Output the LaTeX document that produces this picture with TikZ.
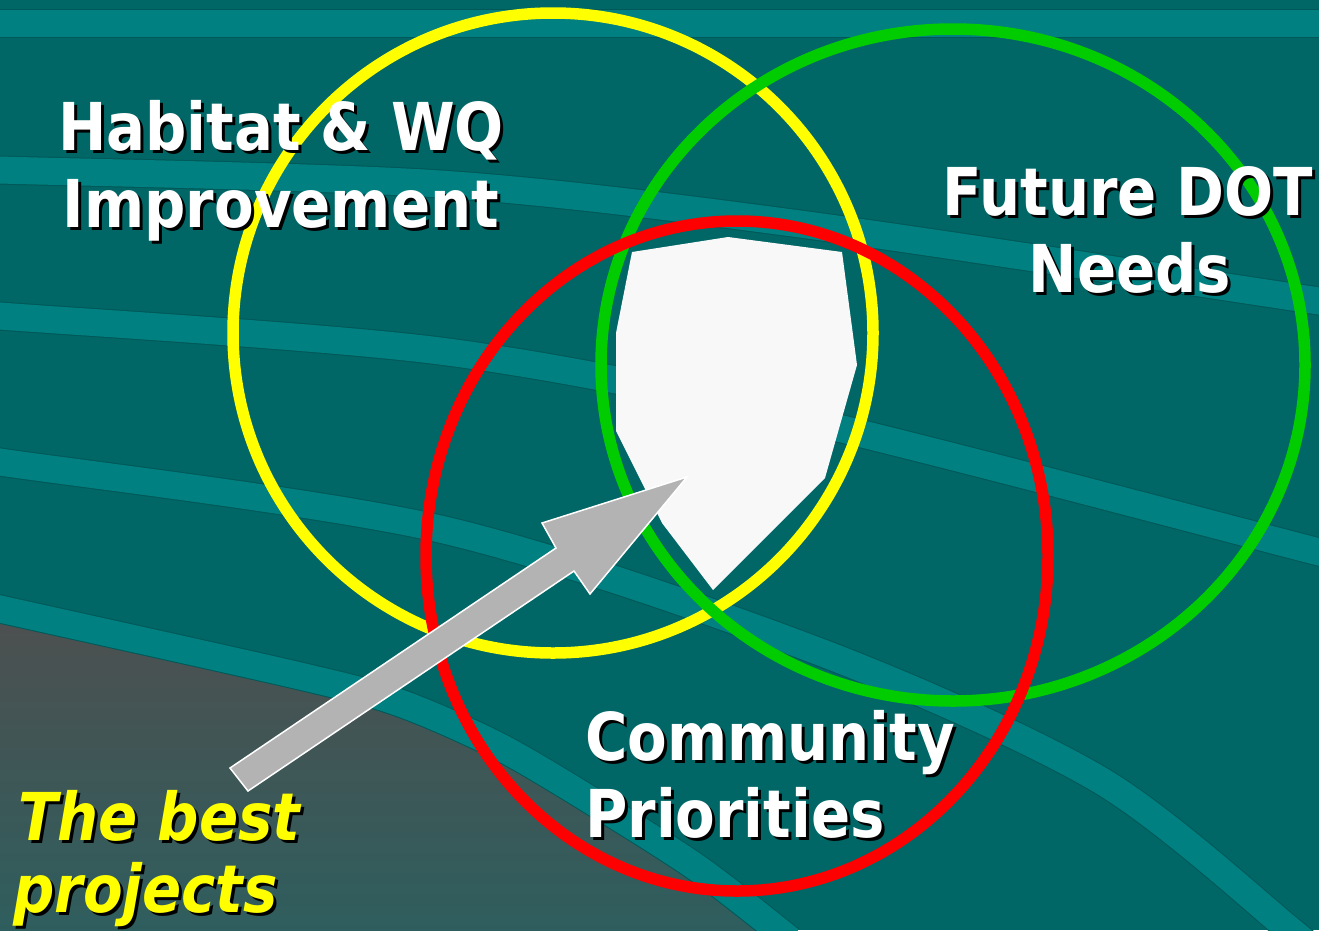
\documentclass[tikz,border=0pt]{standalone}
\usepackage{fontspec}
\newfontfamily\tah{DejaVu Sans}[FakeStretch=0.875]
\usetikzlibrary{calc}
\definecolor{bg}{HTML}{006666}
\definecolor{band}{HTML}{008080}
\definecolor{bandedge}{HTML}{005858}
\definecolor{ycirc}{HTML}{FFFF00}
\definecolor{gcirc}{HTML}{00CC00}
\definecolor{rcirc}{HTML}{FF0000}
\definecolor{arrowgray}{HTML}{B3B3B3}
\definecolor{shieldwhite}{HTML}{F8F8F8}
\definecolor{grayT}{HTML}{4F4F4F}
\definecolor{grayB}{HTML}{2E5E5E}
\definecolor{lblyellow}{HTML}{FFFF00}
\tikzset{
  bandedgeline/.style={line width=29pt, draw=bandedge},
  bandline/.style={line width=27pt, draw=band},
  ring/.style={line width=11.5pt},
  lbl/.style={inner sep=0pt, font=\tah\bfseries\fontsize{66}{77}\selectfont},
}
% text with a black drop shadow, inside one node
\newcommand\shd[2]{\makebox[0pt][l]{\kern3pt\raisebox{-3pt}{\color{black}#2}}\textcolor{#1}{#2}}
\newcommand\bandpath[1]{%
  \draw[bandedgeline] plot[smooth] coordinates {#1};
  \draw[bandline] plot[smooth] coordinates {#1};
}
\begin{document}
\begin{tikzpicture}[x=1pt, y=-1pt]
\useasboundingbox (0,0) rectangle (1319,930);
\begin{scope}
\clip (0,0) rectangle (1319,930);
\fill[bg] (0,0) rectangle (1319,930);
% gray region
\fill[top color=grayT, bottom color=grayB]
  plot[smooth] coordinates {(-10,607) (0,609) (300,676) (400,703) (500,747) (600,806) (700,870) (790,940)}
  -- (-10,940) -- cycle;
% bands
\bandpath{(-10,23.5) (1330,23.5)}
\bandpath{(-10,169.6) (0,170) (440,184) (800,224) (1319,301) (1330,303)}
\bandpath{(-10,315.3) (0,316) (440,351) (800,419) (1319,552) (1330,555)}
\bandpath{(-10,460.5) (0,462) (440,529) (820,652) (1100,780) (1290,930) (1305,945)}
\bandpath{(-10,607) (0,609) (300,676) (400,703) (500,747) (600,806) (700,870) (790,940)}
\end{scope}
% shield
\fill[shieldwhite] (632,252) -- (728,237) -- (842,252) -- (857,365) -- (825,478)
  -- (713,590) -- (662,523) -- (616,431) -- (616,333) -- cycle;
% circles
\draw[ring, draw=ycirc] (553,333) ellipse[x radius=320pt, y radius=320pt];
\draw[ring, draw=gcirc] (953,365) ellipse[x radius=352pt, y radius=336pt];
\draw[ring, draw=rcirc] (737,556) ellipse[x radius=311pt, y radius=335pt];
% arrow
\fill[arrowgray, draw=white, line width=1.5pt, line join=miter]
  (230,768) -- (556,548) -- (542,523) -- (687,477) -- (590,594) -- (574,571) -- (248,791) -- cycle;
% labels
\node[lbl, anchor=base] (hab1) at (281,150) {\shd{white}{Habitat \& WQ}};
\node[lbl, anchor=base] (hab2) at (281,227) {\shd{white}{Improvement}};
\node[lbl, anchor=base] (dot1) at (1128,215) {\shd{white}{Future DOT}};
\node[lbl, anchor=base] (dot2) at (1130,292) {\shd{white}{Needs}};
\node[lbl, anchor=base west] (com1) at (585,760) {\shd{white}{Community}};
\node[lbl, anchor=base west] (com2) at (585,837) {\shd{white}{Priorities}};
\node[lbl, anchor=base west] (best1) at (18,840) {\itshape\shd{lblyellow}{The best}};
\node[lbl, anchor=base west] (best2) at (13,912) {\itshape\shd{lblyellow}{projects}};
\end{tikzpicture}
\end{document}
